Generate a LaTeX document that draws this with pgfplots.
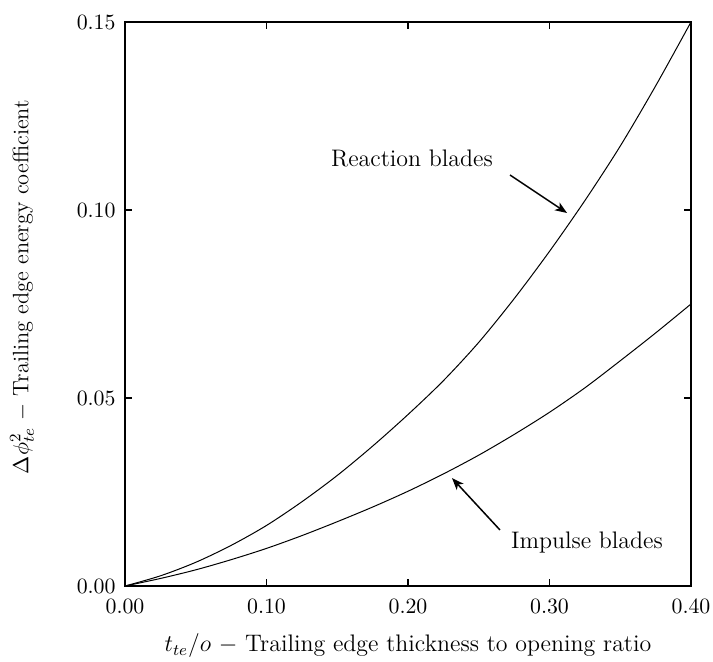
\documentclass[border=0pt]{standalone}
\usepackage{pgfplots}
\pgfplotsset{compat=1.18}
\usetikzlibrary{arrows.meta}

% Trailing edge energy loss coefficient vs. thickness-to-opening ratio
\pgfplotstableread{
x      y
0.000  0.0000
0.025  0.0027
0.050  0.0063
0.075  0.0108
0.100  0.0161
0.125  0.0224
0.150  0.0294
0.175  0.0372
0.200  0.0456
0.225  0.0546
0.250  0.0648
0.275  0.0764
0.300  0.0890
0.325  0.1025
0.350  0.1170
0.375  0.1330
0.400  0.1500
}\reaction

\pgfplotstableread{
x      y
0.000  0.0000
0.025  0.0020
0.050  0.0043
0.075  0.0070
0.100  0.0100
0.125  0.0134
0.150  0.0171
0.175  0.0210
0.200  0.0252
0.225  0.0298
0.250  0.0348
0.275  0.0403
0.300  0.0462
0.325  0.0527
0.350  0.0599
0.375  0.0673
0.400  0.0750
}\impulse

\begin{document}
\begin{tikzpicture}
\path[use as bounding box] (-62.5bp,-38bp) rectangle (294bp,293bp);
\begin{axis}[
  at={(0,0)}, anchor=south west,
  scale only axis,
  width=283bp, height=282bp,
  xmin=0, xmax=0.4, ymin=0, ymax=0.15,
  xtick={0,0.1,0.2,0.3,0.4},
  ytick={0,0.05,0.1,0.15},
  minor tick num=0,
  tick align=inside,
  major tick length=3.5pt,
  axis line style={line width=0.9pt},
  every tick/.style={black, line width=0.8pt},
  tick label style={font=\fontsize{10.8}{13}\selectfont},
  xticklabel style={yshift=-3.2pt},
  yticklabel style={xshift=-1.2pt},
  /pgf/number format/.cd, fixed, fixed zerofill, precision=2,
  /pgfplots/.cd,
  scaled y ticks=false, scaled x ticks=false,
  xlabel={$t_{te}/o$ $-$ Trailing edge thickness to opening ratio},
  ylabel={$\Delta\phi^2_{te}$ $-$ Trailing edge energy coefficient},
  xlabel style={font=\fontsize{12}{14}\selectfont,
                at={(axis description cs:0.5,-0.117)}, anchor=base},
  ylabel style={font=\fontsize{11.2}{13}\selectfont,
                at={(axis description cs:-0.182,0.53)}, anchor=center},
  clip=false,
]
\addplot[black, line width=0.5pt, smooth] table[x=x,y=y] {\reaction};
\addplot[black, line width=0.5pt, smooth] table[x=x,y=y] {\impulse};

\node[font=\fontsize{12}{14}\selectfont] at (axis cs:0.2028,0.1138) {Reaction blades};
\node[font=\fontsize{12}{14}\selectfont] at (axis cs:0.3265,0.01144) {Impulse blades};
\draw[line width=0.75pt, -{Stealth[length=6pt,width=4.6pt,inset=1.6pt]}]
  (axis cs:0.2721,0.1093) -- (axis cs:0.3124,0.0992);
\draw[line width=0.75pt, -{Stealth[length=6pt,width=4.6pt,inset=1.6pt]}]
  (axis cs:0.2650,0.0149) -- (axis cs:0.2311,0.0287);
\end{axis}
\end{tikzpicture}
\end{document}
